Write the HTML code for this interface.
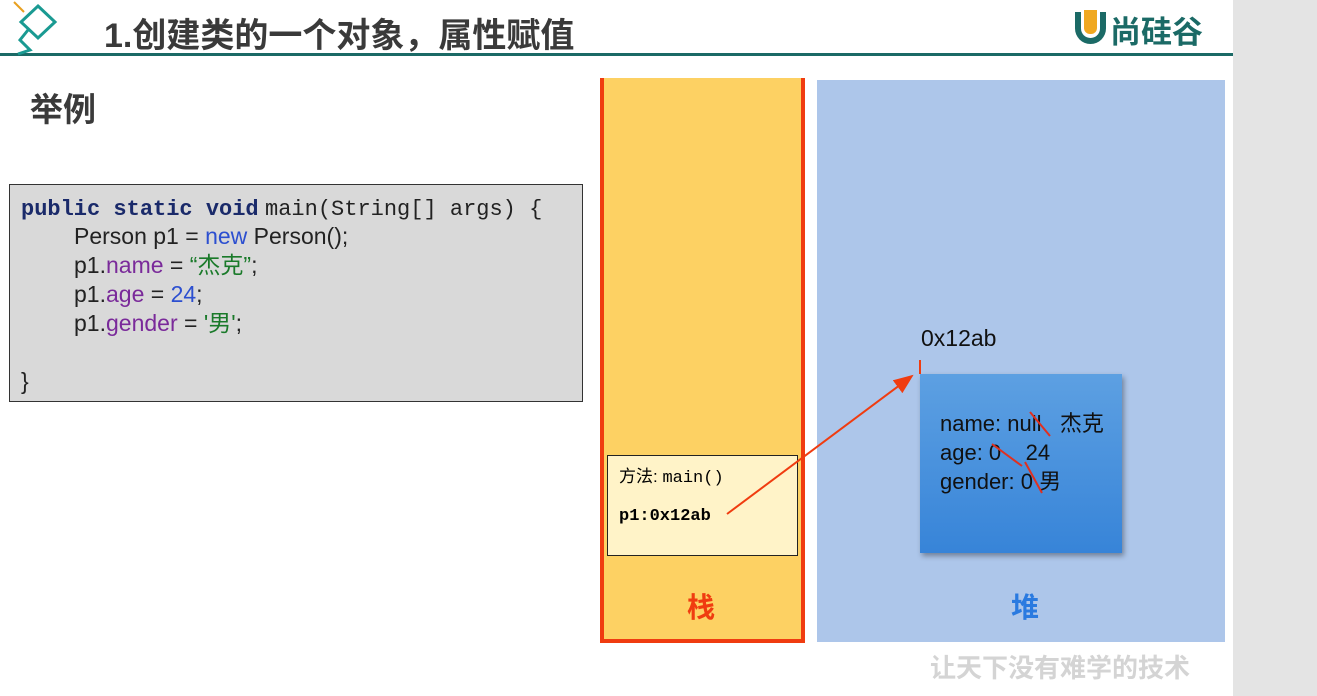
<!DOCTYPE html>
<html><head><meta charset="utf-8"><style>
body{margin:0;width:1317px;height:696px;background:#fff;position:relative;overflow:hidden;font-family:"Liberation Sans","Noto Sans CJK SC",sans-serif}
.a{position:absolute}
.code{font-family:"Liberation Mono","Noto Sans CJK SC",monospace;font-weight:bold;font-size:22px}
</style></head><body>
<div class="a" style="left:1233px;top:0;width:84px;height:696px;background:#e4e4e4"></div>
<div class="a" style="left:0;top:53px;width:1233px;height:3px;background:#1b6a66"></div>
<svg class="a" style="left:0;top:0" width="70" height="56">
<line x1="14" y1="2" x2="24" y2="12" stroke="#e8a020" stroke-width="2"/>
<polygon points="38,6 55,22 38,38 21,22" fill="none" stroke="#1a9a92" stroke-width="3"/>
<polyline points="28,30 20,40 30,50 18,54" fill="none" stroke="#1a9a92" stroke-width="3"/>
</svg>
<div class="a" style="left:104px;top:8px;font-size:34px;font-weight:bold;color:#3a3a3a">1.创建类的一个对象，属性赋值</div>
<div class="a" style="left:1075px;top:12px;width:31px;height:32px;border-radius:0 0 16px 16px;border:6px solid #1b6a66;border-top:none;box-sizing:border-box"></div>
<div class="a" style="left:1084px;top:10px;width:13px;height:24px;border-radius:0 0 6px 6px;background:#f0a820"></div>
<div class="a" style="left:1110px;top:7px;font-size:31px;font-weight:bold;color:#1b6a66">尚硅谷</div>
<div class="a" style="left:30px;top:83px;font-size:33px;font-weight:bold;color:#3a3a3a">举例</div>
<div class="a" style="left:9px;top:184px;width:574px;height:218px;background:#d9d9d9;border:1px solid #333;box-sizing:border-box;font-size:23px;line-height:29px;color:#222">
<div style="position:absolute;left:11px;top:8px;white-space:nowrap"><span class="code" style="color:#1a2a6a">public static void</span> <span style="font-family:'Liberation Mono',monospace;font-size:22px">main(String[] args) {</span></div>
<div style="position:absolute;left:64px;top:37px">Person p1 = <span style="color:#2c4fd0">new</span> Person();</div>
<div style="position:absolute;left:64px;top:66px">p1.<span style="color:#7a2a9a">name</span> = <span style="color:#1a7a2a">“杰克”</span>;</div>
<div style="position:absolute;left:64px;top:95px">p1.<span style="color:#7a2a9a">age</span> = <span style="color:#2c4fd0">24</span>;</div>
<div style="position:absolute;left:64px;top:124px">p1.<span style="color:#7a2a9a">gender</span> = <span style="color:#1a7a2a">'男'</span>;</div>
<div style="position:absolute;left:11px;top:182px">}</div>
</div>
<div class="a" style="left:600px;top:78px;width:205px;height:565px;background:#fdd163;border:4px solid #f03c10;border-top:none;box-sizing:border-box"></div>
<div class="a" style="left:817px;top:80px;width:408px;height:562px;background:#adc6ea"></div>
<div class="a" style="left:607px;top:455px;width:191px;height:101px;background:#fff3c8;border:1px solid #222;box-sizing:border-box;font-size:17px">
<div style="position:absolute;left:11px;top:6px">方法: <span style="font-family:'Liberation Mono',monospace">main()</span></div>
<div style="position:absolute;left:11px;top:51px;font-family:'Liberation Mono',monospace;font-weight:bold">p1:0x12ab</div>
</div>
<div class="a" style="left:687px;top:586px;font-size:28px;font-weight:bold;color:#f03c10">栈</div>
<div class="a" style="left:1011px;top:586px;font-size:28px;font-weight:bold;color:#2a7ae0">堆</div>
<div class="a" style="left:921px;top:325px;font-size:23px;color:#111">0x12ab</div>
<div class="a" style="left:920px;top:374px;width:202px;height:179px;background:linear-gradient(#5da0e2,#3784d8);box-shadow:2px 3px 5px rgba(0,0,0,.35)"></div>
<div class="a" style="left:940px;top:409px;font-size:22px;line-height:29px;color:#111;white-space:nowrap">name: null&nbsp;&nbsp; 杰克<br>age: 0&nbsp;&nbsp;&nbsp; 24<br>gender: 0&nbsp;男</div>
<svg class="a" style="left:0;top:0" width="1317" height="696">
<defs><marker id="m" markerWidth="10" markerHeight="8" refX="9" refY="4" orient="auto"><path d="M0,0 L10,4 L0,8z" fill="#f03c10"/></marker></defs>
<line x1="727" y1="514" x2="912" y2="376" stroke="#f03c10" stroke-width="2" marker-end="url(#m)"/>
<line x1="920" y1="360" x2="920" y2="374" stroke="#f03c10" stroke-width="2"/>
<line x1="1030" y1="412" x2="1050" y2="436" stroke="#e03020" stroke-width="2"/>
<line x1="992" y1="444" x2="1022" y2="466" stroke="#e03020" stroke-width="2"/>
<line x1="1025" y1="462" x2="1042" y2="493" stroke="#e03020" stroke-width="2"/>
</svg>
<div class="a" style="left:930px;top:648px;font-size:26px;color:#d4d4d4;font-weight:bold">让天下没有难学的技术</div>
</body></html>
